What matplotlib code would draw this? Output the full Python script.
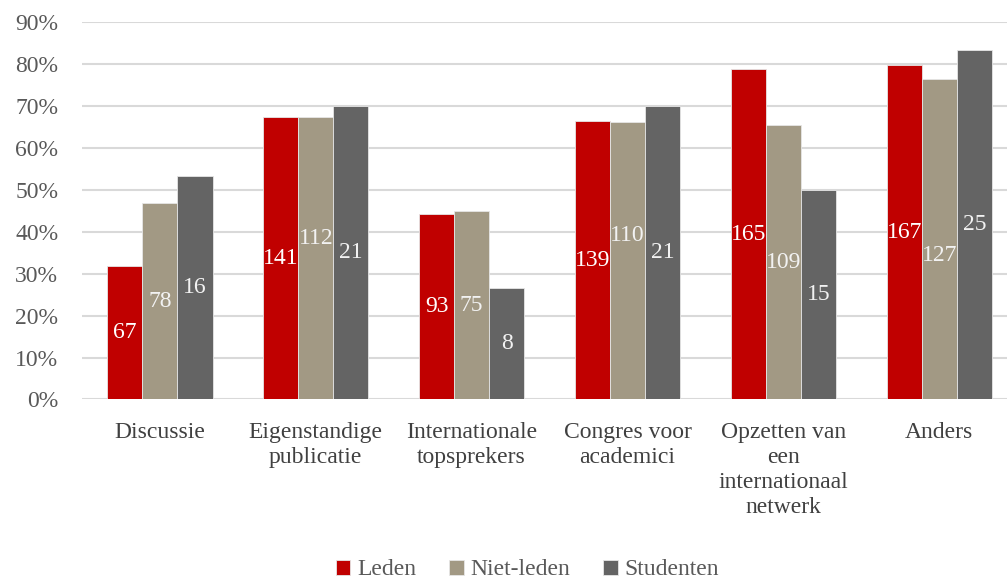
import numpy as np
import matplotlib
matplotlib.use("Agg")
import matplotlib.pyplot as plt
from matplotlib.ticker import PercentFormatter

categories = ["Discussie", "Eigenstandige\npublicatie", "Internationale\ntopsprekers",
              "Congres voor\nacademici", "Opzetten van\neen\ninternationaal\nnetwerk", "Anders"]
series = ["Leden", "Niet-leden", "Studenten"]
leden_pct = [31.9, 67.3, 44.3, 66.4, 78.8, 79.8]
nietleden_pct = [46.8, 67.3, 45.0, 66.1, 65.5, 76.4]
studenten_pct = [53.3, 70.0, 26.6, 70.0, 50.0, 83.3]
leden_n = [67, 141, 93, 139, 165, 167]
nietleden_n = [78, 112, 75, 110, 109, 127]
studenten_n = [16, 21, 8, 21, 15, 25]
colors = ["#C00000", "#A29984", "#646464"]
label_colors = ["white", "#F2F2F2", "#F2F2F2"]

# labels nudged vertically (pts) to avoid overlapping neighbours, like the original
nudges = {(1, 1): 14, (1, 3): 18, (1, 5): -12}

plt.rcParams["font.family"] = ["Liberation Serif", "DejaVu Serif"]

fig = plt.figure(figsize=(10.07, 5.84), dpi=100)
ax = fig.add_axes([0.0814, 0.316, 0.9186, 0.646])

x = np.arange(len(categories))
w = 0.225
pcts = [leden_pct, nietleden_pct, studenten_pct]
counts = [leden_n, nietleden_n, studenten_n]
for i, (name, vals, ns, c) in enumerate(zip(series, pcts, counts, colors)):
    pos = x + (i - 1) * w
    bars = ax.bar(pos, vals, w, color=c, label=name, edgecolor="#E6E6E6", linewidth=0.6, zorder=3)
    for j, (b, v, n) in enumerate(zip(bars, vals, ns)):
        ax.annotate(str(n), (b.get_x() + b.get_width() / 2, v / 2),
                    xytext=(0, nudges.get((i, j), 0)), textcoords="offset points",
                    ha="center", va="center", color=label_colors[i], fontsize=17, zorder=4)

ax.set_ylim(0, 90)
ax.set_yticks(range(0, 91, 10))
ax.yaxis.set_major_formatter(PercentFormatter(decimals=0))
ax.set_xlim(-0.5, 5.435)
ax.set_xticks(x)
ax.set_xticklabels(categories, linespacing=1.25)
ax.tick_params(axis="y", length=0, pad=17, labelsize=17, labelcolor="#595959")
ax.tick_params(axis="x", length=0, pad=16, labelsize=17, labelcolor="#404040")
ax.grid(axis="y", color="#D9D9D9", linewidth=1.5, zorder=0)
for s in ax.spines.values():
    s.set_visible(False)

fig.legend(loc="center", bbox_to_anchor=(0.524, 0.024), ncol=3, frameon=False,
           fontsize=17, handlelength=0.6, handleheight=0.6, handletextpad=0.3,
           columnspacing=1.4, labelcolor="#595959", borderpad=0.1)

fig.savefig("out.png", dpi=100)
